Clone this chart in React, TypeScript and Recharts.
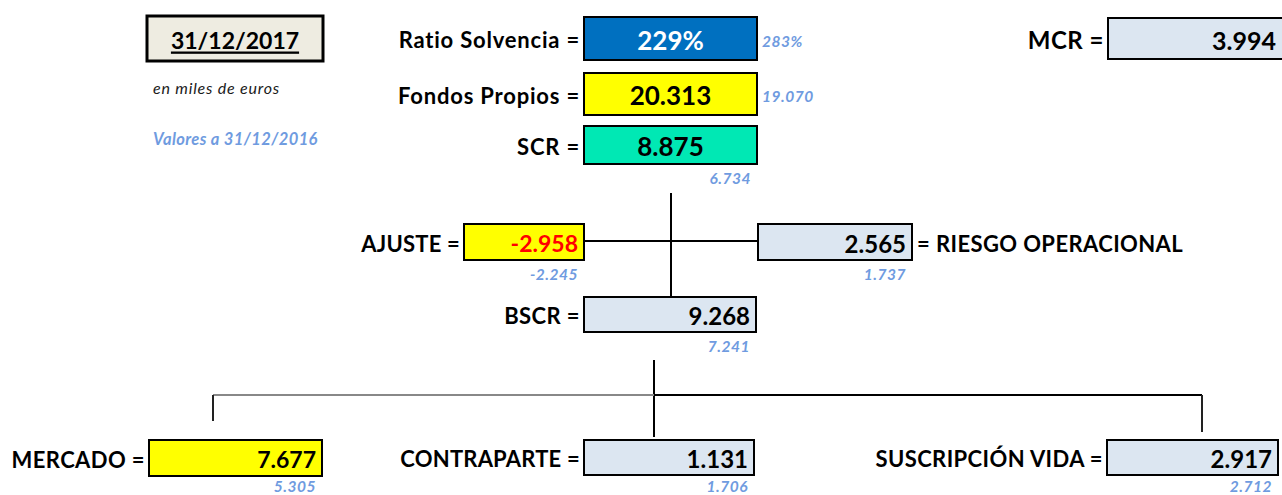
import { ComposedChart, Label, ReferenceArea, ReferenceLine, XAxis, YAxis } from "recharts";

// figures in miles de euros, 31/12/2017 vs 31/12/2016
const nodeNames = [
    "Ratio Solvencia",
    "Fondos Propios",
    "SCR",
    "MCR",
    "AJUSTE",
    "RIESGO OPERACIONAL",
    "BSCR",
    "MERCADO",
    "CONTRAPARTE",
    "SUSCRIPCIÓN VIDA",
];
const values2017 = [229, 20313, 8875, 3994, -2958, 2565, 9268, 7677, 1131, 2917];
const values2016 = [283, 19070, 6734, null, -2245, 1737, 7241, 5305, 1706, 2712];
const isPercent = [true, false, false, false, false, false, false, false, false, false];

const dateLabel = "31/12/2017";
const unitNote = "en miles de euros";
const prevNote = "Valores a 31/12/2016";

const W = 1282;
const H = 495;
const FONT = "Lato, 'Liberation Sans', Arial, sans-serif";
const PREV_COLOR = "#6f9be0";
const LIGHT = "#dce6f1";

// layout of the boxes (chart units = px)
const boxes = [
    { x1: 583, x2: 758, y1: 16, y2: 61, fill: "#0070c0", color: "#ffffff", align: "center", labelSide: "left", prev: "side", size: 26, labelSize: 22, ls: 0.8 },
    { x1: 583, x2: 758, y1: 72, y2: 116, fill: "#ffff00", color: "#000000", align: "center", labelSide: "left", prev: "side", size: 26, labelSize: 22, ls: 0.8 },
    { x1: 583, x2: 758, y1: 125, y2: 165, fill: "#00e8b4", color: "#000000", align: "center", labelSide: "left", prev: "below", size: 26, labelSize: 22, ls: 0.8 },
    { x1: 1107, x2: 1292, y1: 17, y2: 60, fill: LIGHT, color: "#000000", align: "right", labelSide: "left", prev: "none", size: 25, labelSize: 24, ls: 0.5 },
    { x1: 463, x2: 585, y1: 223, y2: 261, fill: "#ffff00", color: "#ff0000", align: "right", labelSide: "left", prev: "below", size: 23, labelSize: 22, ls: 0.2 },
    { x1: 757, x2: 913, y1: 223, y2: 261, fill: LIGHT, color: "#000000", align: "right", labelSide: "right", prev: "below", size: 24, labelSize: 22, ls: 0.4 },
    { x1: 583, x2: 757, y1: 296, y2: 333, fill: LIGHT, color: "#000000", align: "right", labelSide: "left", prev: "below", size: 24, labelSize: 22, ls: 0.4 },
    { x1: 148, x2: 323, y1: 439, y2: 477, fill: "#ffff00", color: "#000000", align: "right", labelSide: "left", prev: "below", size: 23, labelSize: 22, ls: 0.4 },
    { x1: 583, x2: 755, y1: 439, y2: 476, fill: LIGHT, color: "#000000", align: "right", labelSide: "left", prev: "below", size: 24, labelSize: 22, ls: 0.2 },
    { x1: 1106, x2: 1279, y1: 439, y2: 476, fill: LIGHT, color: "#000000", align: "right", labelSide: "left", prev: "below", size: 24, labelSize: 22, ls: 0.4 },
];

const connectors = [
    { from: [671, 193], to: [671, 296], color: "#000" },
    { from: [585, 241], to: [757, 241], color: "#000" },
    { from: [654, 360], to: [654, 437], color: "#000" },
    { from: [213, 395], to: [654, 395], color: "#888" },
    { from: [654, 395], to: [1202, 395], color: "#000" },
    { from: [213, 395], to: [213, 421], color: "#222" },
    { from: [1202, 395], to: [1202, 432], color: "#222" },
];

const fmt = (v: number, pct: boolean) => {
    if (pct) return `${v}%`;
    const s = Math.abs(v).toString().replace(/\B(?=(\d{3})+(?!\d))/g, ".");
    return (v < 0 ? "-" : "") + s;
};

const renderNode = (i: number) => (props: any) => {
    const { x, y, width, height } = props.viewBox;
    const b = boxes[i];
    const cy = y + height / 2;
    const value = fmt(values2017[i], isPercent[i]);
    const prev = values2016[i];
    const right = x + width;
    let vx = x + width / 2;
    let anchor: "middle" | "end" = "middle";
    if (b.align === "right") {
        vx = Math.min(right, W) - 6;
        anchor = "end";
    }
    const prevStyle = { fontSize: 15.5, fontWeight: 700, fontStyle: "italic", fill: PREV_COLOR, letterSpacing: 0.5 } as const;
    return (
        <g fontFamily={FONT}>
            <text x={vx} y={cy + 1} textAnchor={anchor} dominantBaseline="central" fontSize={b.size} fontWeight={700} fill={b.color}>
                {value}
            </text>
            {b.labelSide === "left" ? (
                <text x={x - 4} y={cy + 1} textAnchor="end" dominantBaseline="central" fontSize={b.labelSize} letterSpacing={b.ls} fontWeight={700} fill="#000">
                    {nodeNames[i]} =
                </text>
            ) : (
                <text x={right + 5} y={cy + 1} textAnchor="start" dominantBaseline="central" fontSize={b.labelSize} letterSpacing={b.ls} fontWeight={700} fill="#000">
                    = {nodeNames[i]}
                </text>
            )}
            {prev !== null && b.prev === "side" && (
                <text x={right + 5} y={cy + 2} textAnchor="start" dominantBaseline="central" {...prevStyle}>
                    {fmt(prev, isPercent[i])}
                </text>
            )}
            {prev !== null && b.prev === "below" && (
                <text x={right - 6} y={Math.min(y + height + 14, 486)} textAnchor="end" dominantBaseline="central" {...prevStyle}>
                    {fmt(prev, isPercent[i])}
                </text>
            )}
        </g>
    );
};

const renderDate = (props: any) => {
    const { x, y, width, height } = props.viewBox;
    return (
        <text x={x + width / 2} y={y + height / 2 + 1} textAnchor="middle" dominantBaseline="central" fontFamily={FONT} fontSize={23} fontWeight={700} textDecoration="underline" fill="#000">
            {dateLabel}
        </text>
    );
};

const renderNote = (text: string, color: string, size: number, weight: number, ls: number) => (props: any) => {
    const { x, y, height } = props.viewBox;
    return (
        <text x={x} y={y + height / 2} textAnchor="start" dominantBaseline="central" fontFamily={FONT} fontSize={size} letterSpacing={ls} fontStyle="italic" fontWeight={weight} fill={color}>
            {text}
        </text>
    );
};

const App = () => {
    return (
        <div style={{ position: "absolute", left: 0, top: 0, width: W, height: H, background: "#fff" }}>
            <ComposedChart width={W} height={H} data={values2017.map((v, i) => ({ name: nodeNames[i], v }))} margin={{ top: 0, right: 0, bottom: 0, left: 0 }}>
                <XAxis type="number" dataKey="v" domain={[0, W]} hide allowDataOverflow />
                <YAxis type="number" domain={[0, H]} reversed hide allowDataOverflow />
                {connectors.map((c, i) => (
                    <ReferenceLine
                        key={`c${i}`}
                        segment={[{ x: c.from[0], y: c.from[1] }, { x: c.to[0], y: c.to[1] }]}
                        stroke={c.color}
                        strokeWidth={2}
                        ifOverflow="visible"
                    />
                ))}
                <ReferenceArea x1={147} x2={323} y1={16} y2={61} fill="#eeece1" fillOpacity={1} stroke="#000" strokeWidth={3} ifOverflow="visible">
                    <Label content={renderDate} />
                </ReferenceArea>
                <ReferenceArea x1={153} x2={340} y1={78} y2={96} fill="none" stroke="none" ifOverflow="visible">
                    <Label content={renderNote(unitNote, "#1a1a1a", 16, 400, 0.8)} />
                </ReferenceArea>
                <ReferenceArea x1={153} x2={340} y1={130} y2={148} fill="none" stroke="none" ifOverflow="visible">
                    <Label content={renderNote(prevNote, PREV_COLOR, 16.5, 700, 0.4)} />
                </ReferenceArea>
                {boxes.map((b, i) => (
                    <ReferenceArea
                        key={`b${i}`}
                        x1={b.x1 + 1}
                        x2={b.x2 - 1}
                        y1={b.y1 + 1}
                        y2={b.y2 - 1}
                        fill={b.fill}
                        fillOpacity={1}
                        stroke="#000"
                        strokeWidth={2}
                        ifOverflow="visible"
                    >
                        <Label content={renderNode(i)} />
                    </ReferenceArea>
                ))}
            </ComposedChart>
        </div>
    );
};

export default App;
